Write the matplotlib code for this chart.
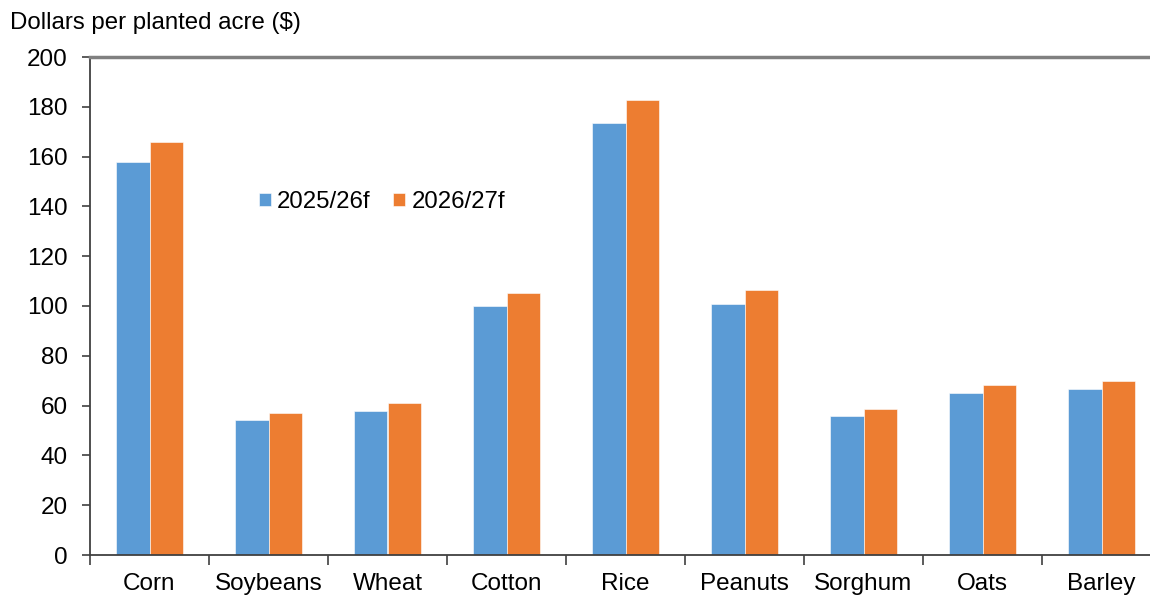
import numpy as np
import matplotlib
matplotlib.use("Agg")
import matplotlib.pyplot as plt

plt.rcParams['font.family'] = ['Liberation Sans', 'DejaVu Sans']

# data
crops = ["Corn", "Soybeans", "Wheat", "Cotton", "Rice", "Peanuts", "Sorghum", "Oats", "Barley"]
vals_2025 = [157.8, 54.2, 57.8, 100.0, 173.5, 100.8, 55.8, 65.1, 66.7]
vals_2026 = [165.9, 57.0, 61.0, 105.2, 182.7, 106.4, 58.6, 68.3, 69.9]
series_labels = ["2025/26f", "2026/27f"]
yticks = [0, 20, 40, 60, 80, 100, 120, 140, 160, 180, 200]

blue = "#5B9BD5"
orange = "#ED7D31"

fig = plt.figure(figsize=(11.5, 5.96), dpi=100)
ax = fig.add_axes([90/1150, 41/596, 1071/1150, 498/596])

x = np.arange(len(crops))
w = 0.28
ax.bar(x - w/2, vals_2025, w, color=blue, edgecolor="white", linewidth=0.4, label=series_labels[0])
ax.bar(x + w/2, vals_2026, w, color=orange, edgecolor="white", linewidth=0.4, label=series_labels[1])

ax.set_xlim(-0.5, len(crops) - 0.5)
ax.set_ylim(0, 200)
ax.set_yticks(yticks)
ax.tick_params(axis='y', labelsize=17.5, length=6, width=1.2, color="#404040", pad=10)

# category labels centred, tick marks between categories
ax.set_xticks(x)
ax.set_xticklabels(crops, fontsize=17.5)
ax.tick_params(axis='x', which='major', length=0, pad=13)
ax.set_xticks(np.arange(len(crops) + 1) - 0.5, minor=True)
ax.tick_params(axis='x', which='minor', length=7, width=1.2, color="#404040", direction='out')

ax.spines['left'].set_color("#404040")
ax.spines['left'].set_linewidth(1.3)
ax.spines['bottom'].set_color("#404040")
ax.spines['bottom'].set_linewidth(1.3)
ax.spines['top'].set_color("#808080")
ax.spines['top'].set_linewidth(2.5)
ax.spines['right'].set_visible(False)

fig.text(10/1150, 1 - 23/596, "Dollars per planted acre ($)", fontsize=17.3, va='center', ha='left')

leg = fig.legend(loc='center left', bbox_to_anchor=(259/1150, 1 - 202/596), frameon=False,
                 fontsize=17.3, handlelength=0.5, handleheight=0.5, handletextpad=0.25,
                 columnspacing=0.95, ncol=2, borderaxespad=0, borderpad=0)

fig.savefig("out.png", dpi=100)
